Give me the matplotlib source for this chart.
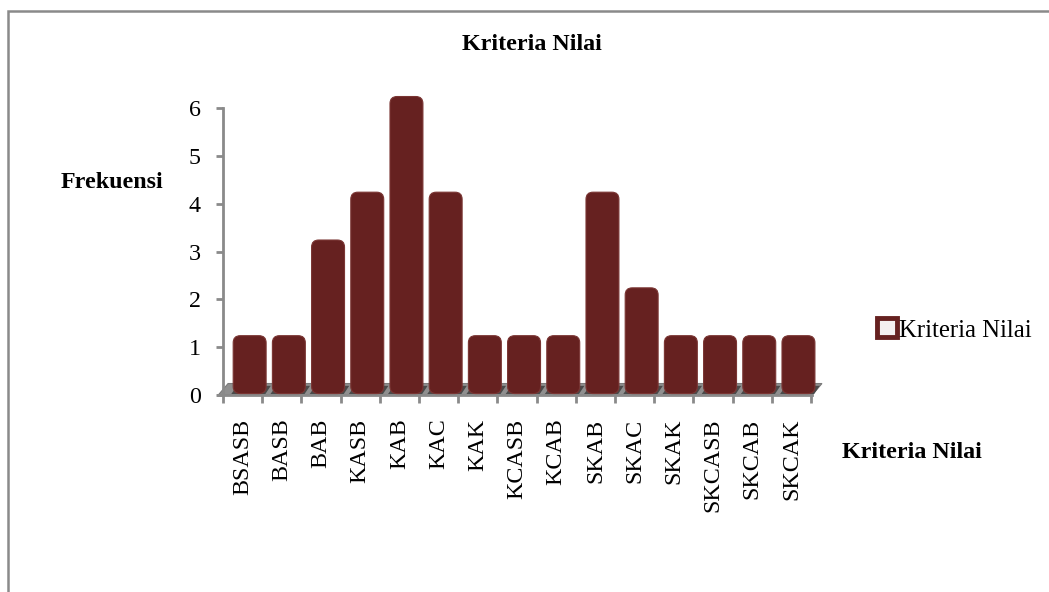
import matplotlib
matplotlib.use("Agg")
import matplotlib.pyplot as plt
from matplotlib.patches import FancyBboxPatch, Polygon, Rectangle, Patch

# DATA
categories = ['BSASB', 'BASB', 'BAB', 'KASB', 'KAB', 'KAC', 'KAK', 'KCASB',
              'KCAB', 'SKAB', 'SKAC', 'SKAK', 'SKCASB', 'SKCAB', 'SKCAK']
frekuensi = [1, 1, 3, 4, 6, 4, 1, 1, 1, 4, 2, 1, 1, 1, 1]
y_ticks = [0, 1, 2, 3, 4, 5, 6]

# STYLE
W, H = 1049, 592
BAR_COLOR = '#662120'
GRID_GRAY = '#8a8a8a'
FONT = 'Liberation Serif'
FS = 17.3
DEPTH_X = 0.25   # pseudo-3d offset, data units
DEPTH_Y = 0.24

plt.rcParams['font.family'] = [FONT, 'DejaVu Serif']

fig = plt.figure(figsize=(W / 100, H / 100), dpi=100)
ax = fig.add_axes([223 / W, 1 - 395 / H, (811 - 223) / W, (395 - 108) / H])
n = len(categories)
ax.set_xlim(-0.5, n - 0.5)
ax.set_ylim(0, 6)

# floor
floor = Polygon([(-0.62, 0), (n - 0.47, 0), (n - 0.47 + DEPTH_X, DEPTH_Y),
                 (-0.62 + DEPTH_X, DEPTH_Y)], closed=True,
                facecolor='#8f8f8f', edgecolor='#7a7a7a', lw=0.8,
                clip_on=False, zorder=1)
ax.add_patch(floor)

# bars with rounded tops
bar_w = 0.84
for i, v in enumerate(frekuensi):
    left = i + 0.18 - bar_w / 2
    # shadow on the floor
    ax.add_patch(Polygon([(left - 0.05, 0.02), (left + bar_w - 0.02, 0.02),
                          (left + bar_w + 0.12, DEPTH_Y * 0.8),
                          (left + 0.1, DEPTH_Y * 0.8)],
                         closed=True, facecolor='#4a4a4a', edgecolor='none',
                         clip_on=False, zorder=2))
    box = FancyBboxPatch((left, 0.03), bar_w, v + DEPTH_Y - 0.03,
                         boxstyle='round,pad=0,rounding_size=0.18',
                         mutation_aspect=39.2 / 47.7,
                         facecolor=BAR_COLOR, edgecolor='#7a3533', lw=0.8,
                         clip_on=False, zorder=3)
    ax.add_patch(box)

# axes styling
for s in ['top', 'right']:
    ax.spines[s].set_visible(False)
ax.spines['left'].set_color(GRID_GRAY)
ax.spines['left'].set_linewidth(2)
ax.spines['bottom'].set_color(GRID_GRAY)
ax.spines['bottom'].set_linewidth(2)
ax.spines['bottom'].set_bounds(-0.62, n - 0.47)

ax.set_yticks(y_ticks)
ax.set_yticklabels([str(t) for t in y_ticks], fontsize=FS)
ax.tick_params(axis='y', direction='out', length=5, width=2, color=GRID_GRAY,
               pad=11)

ax.set_xticks(range(n))
ax.set_xticklabels(categories, rotation=90, fontsize=FS, va='top')
ax.set_xticks([i - 0.5 for i in range(n + 1)], minor=True)
ax.tick_params(axis='x', which='major', length=0, pad=17)
ax.tick_params(axis='x', which='minor', direction='out', length=6, width=2,
               color=GRID_GRAY)

# titles and axis labels
fig.text(532 / W, 1 - 45 / H, 'Kriteria Nilai', ha='center', va='center',
         fontsize=FS, fontweight='bold')
fig.text(112 / W, 1 - 182 / H, 'Frekuensi', ha='center', va='center',
         fontsize=FS, fontweight='bold')
fig.text(912 / W, 1 - 452 / H, 'Kriteria Nilai', ha='center', va='center',
         fontsize=FS, fontweight='bold')

# legend
handle = Patch(facecolor='#f4f0f0', edgecolor=BAR_COLOR, linewidth=3.5,
               label='Kriteria Nilai')
fig.legend(handles=[handle], loc='center left',
           bbox_to_anchor=(877 / W, 1 - 330 / H), frameon=False,
           fontsize=17.8, handlelength=0.8, handleheight=0.8,
           handletextpad=0.1, borderpad=0, borderaxespad=0)

# outer frame
fig.patches.append(Rectangle((8 / W, -0.1), 1.2, 1 - 11 / H + 0.1,
                             transform=fig.transFigure, fill=False,
                             edgecolor=GRID_GRAY, lw=1.8))

fig.savefig('out.png', dpi=100)
